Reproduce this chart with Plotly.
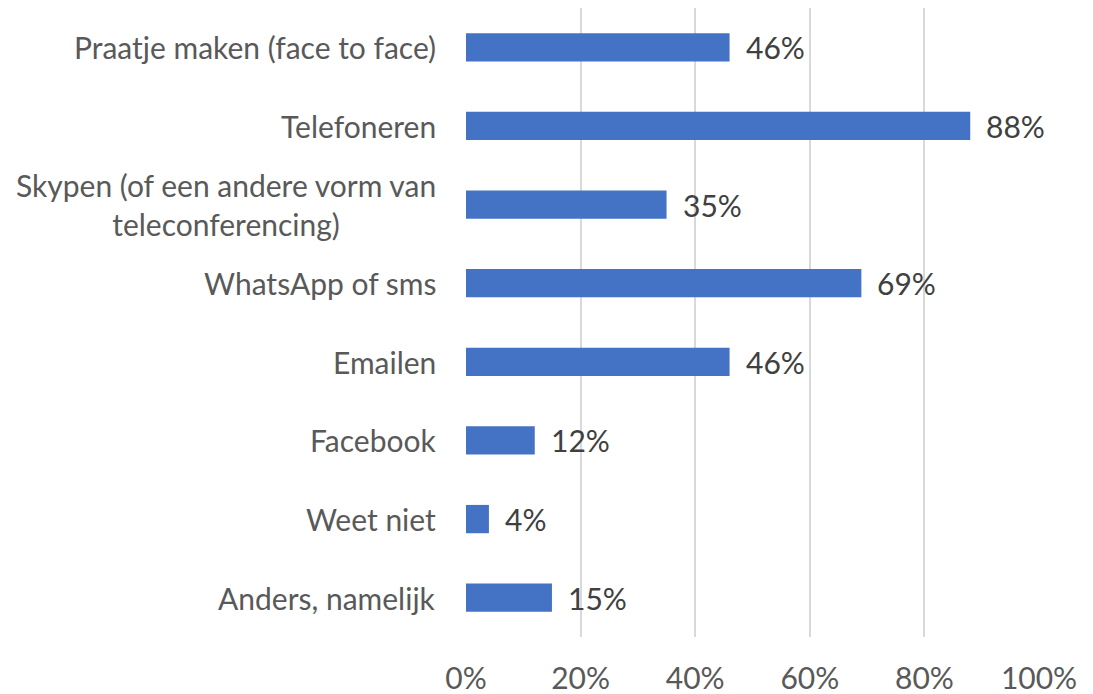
import plotly.graph_objects as go

categorieen = [
    "Praatje maken (face to face)",
    "Telefoneren",
    "Skypen (of een andere vorm van<br>teleconferencing)",
    "WhatsApp of sms",
    "Emailen",
    "Facebook",
    "Weet niet",
    "Anders, namelijk",
]
percentages = [0.46, 0.88, 0.35, 0.69, 0.46, 0.12, 0.04, 0.15]
x_ticks = [0, 0.2, 0.4, 0.6, 0.8, 1.0]
x_labels = ["0%", "20%", "40%", "60%", "80%", "100%"]

FONT = "Lato"
FONT_SIZE = 30
COR_BALK = "#4472C4"
COR_TEKST = "#595959"
COR_LABEL = "#404040"
COR_GRID = "#D9D9D9"

fig = go.Figure()

fig.add_trace(
    go.Bar(
        x=percentages,
        y=categorieen,
        orientation="h",
        marker=dict(color=COR_BALK, line=dict(width=0)),
        hoverinfo="skip",
    )
)

# waardelabels rechts van de balken
for cat, val in zip(categorieen, percentages):
    fig.add_annotation(
        x=val, y=cat, text=f"{round(val * 100)}%",
        xanchor="left", xshift=14, showarrow=False,
        font=dict(family=FONT, size=FONT_SIZE, color=COR_LABEL),
    )

# categorielabels (gecentreerd bij meerdere regels)
for cat in categorieen:
    fig.add_annotation(
        x=0, xref="paper", y=cat, text=cat,
        xanchor="right", xshift=-28, align="center", showarrow=False,
        font=dict(family=FONT, size=FONT_SIZE, color=COR_TEKST),
    )

# de pagina heeft 8px body-marge, dus figuur iets kleiner
fig.update_layout(
    width=1085,
    height=686,
    paper_bgcolor="white",
    plot_bgcolor="white",
    margin=dict(l=458, r=54, t=0, b=57, autoexpand=False),
    bargap=0.64,
    showlegend=False,
    font=dict(family=FONT, size=FONT_SIZE, color=COR_TEKST),
)

fig.update_xaxes(
    range=[0, 1.0],
    tickvals=x_ticks,
    ticktext=x_labels,
    showgrid=True,
    gridcolor=COR_GRID,
    gridwidth=2,
    zeroline=False,
    showline=False,
    ticks="",
    ticklabelstandoff=21,
    tickfont=dict(family=FONT, size=FONT_SIZE, color=COR_TEKST),
    automargin=False,
    fixedrange=True,
)
fig.update_yaxes(
    autorange="reversed",
    showticklabels=False,
    showgrid=False,
    zeroline=False,
    showline=False,
    automargin=False,
    fixedrange=True,
)

fig.write_html("out.html")
